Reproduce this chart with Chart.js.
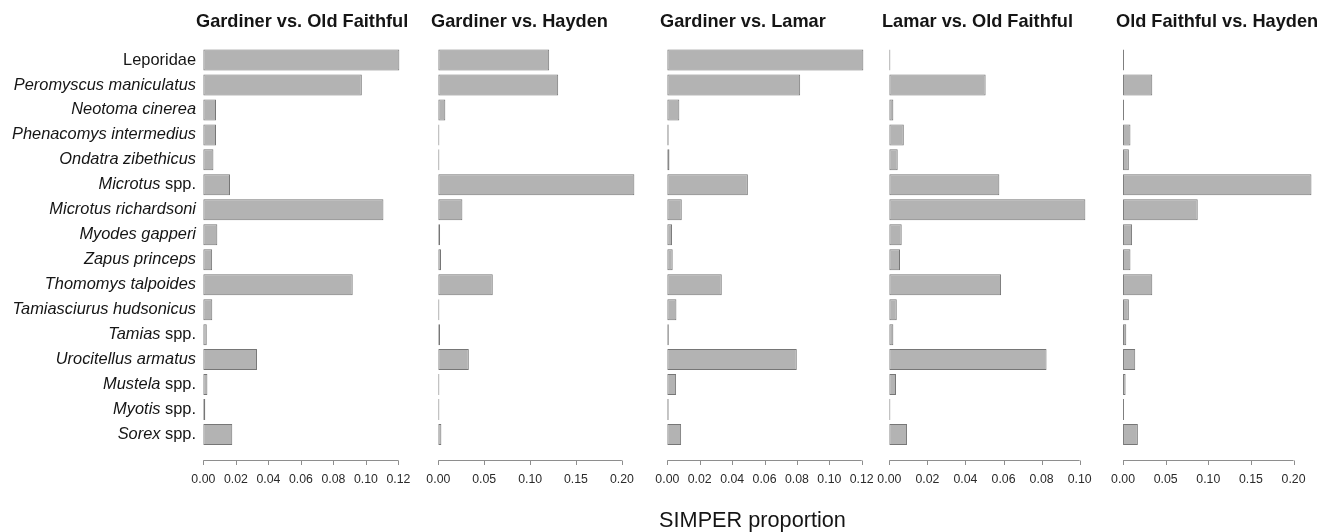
<!DOCTYPE html>
<html>
<head>
<meta charset="utf-8">
<script src="https://cdn.jsdelivr.net/npm/chart.js@4.4.1/dist/chart.umd.min.js"></script>
<style>
  html, body { margin: 0; padding: 0; background: #ffffff; }
  #wrap { position: relative; width: 1331px; height: 532px; overflow: hidden; }
  #wrap canvas { position: absolute; left: 0; top: 0; }
</style>
</head>
<body>
<div id="wrap"></div>
<script>
// Taxa, top to bottom
const categories = [
  'Leporidae', 'Peromyscus maniculatus', 'Neotoma cinerea', 'Phenacomys intermedius',
  'Ondatra zibethicus', 'Microtus spp.', 'Microtus richardsoni', 'Myodes gapperi',
  'Zapus princeps', 'Thomomys talpoides', 'Tamiasciurus hudsonicus', 'Tamias spp.',
  'Urocitellus armatus', 'Mustela spp.', 'Myotis spp.', 'Sorex spp.'
];
// Portion of each name set in italics (genus / species)
const italicParts = [
  '', 'Peromyscus maniculatus', 'Neotoma cinerea', 'Phenacomys intermedius',
  'Ondatra zibethicus', 'Microtus', 'Microtus richardsoni', 'Myodes gapperi',
  'Zapus princeps', 'Thomomys talpoides', 'Tamiasciurus hudsonicus', 'Tamias',
  'Urocitellus armatus', 'Mustela', 'Myotis', 'Sorex'
];

const panelTitles = [
  'Gardiner vs. Old Faithful', 'Gardiner vs. Hayden', 'Gardiner vs. Lamar',
  'Lamar vs. Old Faithful', 'Old Faithful vs. Hayden'
];

// SIMPER contribution of each taxon
const gardinerVsOldFaithful = [0.1206, 0.0975, 0.0078, 0.0078, 0.0062, 0.0164, 0.1108, 0.0086,
                               0.0054, 0.0919, 0.0055, 0.0021, 0.0330, 0.0025, 0.0012, 0.0178];
const gardinerVsHayden      = [0.1208, 0.1306, 0.0076, 0.0008, 0.0004, 0.2136, 0.0262, 0.0019,
                               0.0029, 0.0593, 0.0010, 0.0018, 0.0332, 0.0004, 0.0008, 0.0033];
const gardinerVsLamar       = [0.1210, 0.0820, 0.0074, 0.0008, 0.0013, 0.0497, 0.0089, 0.0029,
                               0.0033, 0.0336, 0.0056, 0.0009, 0.0799, 0.0054, 0.0008, 0.0085];
const lamarVsOldFaithful    = [0.0002, 0.0506, 0.0021, 0.0076, 0.0044, 0.0578, 0.1030, 0.0065,
                               0.0056, 0.0587, 0.0039, 0.0021, 0.0826, 0.0035, 0.0002, 0.0093];
const oldFaithfulVsHayden   = [0.0003, 0.0343, 0.0004, 0.0087, 0.0068, 0.2210, 0.0876, 0.0106,
                               0.0087, 0.0343, 0.0068, 0.0038, 0.0143, 0.0030, 0.0004, 0.0174];

// Axis tick labels
const ticksTo012 = ['0.00', '0.02', '0.04', '0.06', '0.08', '0.10', '0.12'];
const ticksTo020 = ['0.00', '0.05', '0.10', '0.15', '0.20'];
const ticksTo010 = ['0.00', '0.02', '0.04', '0.06', '0.08', '0.10'];

const axisTitle = 'SIMPER proportion';

const FONT = '"Liberation Sans", Arial, Helvetica, sans-serif';
const W = 1331, H = 532;
const PANEL_W = 211.7;

const panels = [
  { title: panelTitles[0], data: gardinerVsOldFaithful, ticks: ticksTo012, left: 195.5, names: true },
  { title: panelTitles[1], data: gardinerVsHayden,      ticks: ticksTo020, left: 430.5 },
  { title: panelTitles[2], data: gardinerVsLamar,       ticks: ticksTo012, left: 659.5, axisTitle: true },
  { title: panelTitles[3], data: lamarVsOldFaithful,    ticks: ticksTo010, left: 881.5 },
  { title: panelTitles[4], data: oldFaithfulVsHayden,   ticks: ticksTo020, left: 1115.5 }
];

// Titles, R-style axis line with tick marks, taxon names and the shared axis title
const panelDecor = {
  id: 'panelDecor',
  afterDraw(chart, args, opts) {
    const ctx = chart.ctx;
    const area = chart.chartArea;
    const xs = chart.scales.x;
    const ys = chart.scales.y;
    ctx.save();

    ctx.font = 'bold 18.2px ' + FONT;
    ctx.fillStyle = '#151515';
    ctx.textAlign = 'left';
    ctx.textBaseline = 'alphabetic';
    ctx.fillText(opts.title, area.left + 0.5, 27.3);

    const yAxis = Math.round(area.bottom + 13) + 0.5;
    const t = xs.ticks;
    const xa = xs.getPixelForValue(t[0].value);
    const xb = xs.getPixelForValue(t[t.length - 1].value);
    ctx.strokeStyle = '#8e8e8e';
    ctx.lineWidth = 1;
    ctx.beginPath();
    ctx.moveTo(xa, yAxis);
    ctx.lineTo(xb, yAxis);
    t.forEach(tk => {
      const px = Math.round(xs.getPixelForValue(tk.value)) + 0.5;
      ctx.moveTo(px, yAxis);
      ctx.lineTo(px, yAxis + 4.5);
    });
    ctx.stroke();

    if (opts.names) {
      const xr = area.left + 0.5;
      ctx.fillStyle = '#151515';
      ctx.textBaseline = 'middle';
      ctx.textAlign = 'right';
      categories.forEach((name, i) => {
        const py = ys.getPixelForValue(i);
        const ital = italicParts[i];
        const rest = name.slice(ital.length);
        ctx.font = '16.4px ' + FONT;
        const restW = rest ? ctx.measureText(rest).width : 0;
        if (rest) ctx.fillText(rest, xr, py);
        if (ital) {
          ctx.font = 'italic 16.4px ' + FONT;
          ctx.fillText(ital, xr - restW, py);
        }
      });
    }

    if (opts.axisTitle) {
      ctx.font = '21.7px ' + FONT;
      ctx.fillStyle = '#151515';
      ctx.textAlign = 'center';
      ctx.textBaseline = 'alphabetic';
      ctx.fillText(opts.axisTitle, 752.5, 526.7);
    }
    ctx.restore();
  }
};

const wrap = document.getElementById('wrap');

panels.forEach(p => {
  const canvas = document.createElement('canvas');
  canvas.width = W;
  canvas.height = H;
  canvas.style.width = W + 'px';
  canvas.style.height = H + 'px';
  wrap.appendChild(canvas);

  const top = Math.max(...p.data);
  const tickValues = p.ticks.map(Number);

  new Chart(canvas.getContext('2d'), {
    type: 'bar',
    data: {
      labels: categories,
      datasets: [{
        data: p.data,
        backgroundColor: '#b3b3b3',
        borderColor: '#767676',
        borderWidth: 1,
        borderSkipped: false,
        minBarLength: 1,
        barPercentage: 0.84,
        categoryPercentage: 1.0
      }]
    },
    options: {
      indexAxis: 'y',
      responsive: false,
      animation: false,
      devicePixelRatio: 1,
      layout: {
        padding: { left: p.left, right: W - p.left - PANEL_W, top: 47.5, bottom: 0 }
      },
      plugins: {
        legend: { display: false },
        tooltip: { enabled: false },
        panelDecor: {
          title: p.title,
          names: !!p.names,
          axisTitle: p.axisTitle ? axisTitle : null
        }
      },
      scales: {
        x: {
          type: 'linear',
          position: 'bottom',
          min: -0.04 * top,
          max: 1.04 * top,
          grid: { display: false, drawTicks: false },
          border: { display: false },
          afterBuildTicks: scale => { scale.ticks = tickValues.map(v => ({ value: v })); },
          afterFit: scale => { scale.height = 85; },
          ticks: {
            autoSkip: false,
            maxRotation: 0,
            padding: 25,
            color: '#2a2a2a',
            font: { family: FONT, size: 12.3 },
            callback: v => v.toFixed(2)
          }
        },
        y: {
          type: 'category',
          display: false,
          offset: true,
          grid: { display: false }
        }
      }
    },
    plugins: [panelDecor]
  });
});
</script>
</body>
</html>
